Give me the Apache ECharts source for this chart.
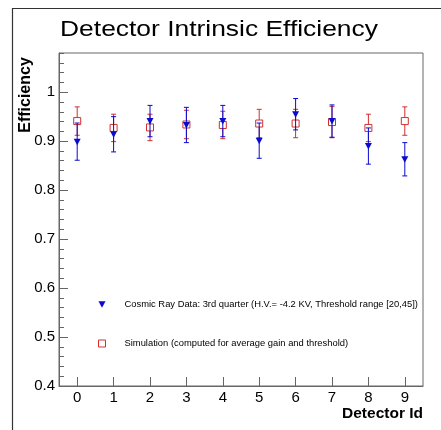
<!DOCTYPE html>
<html>
<head>
<meta charset="utf-8">
<script src="https://cdn.jsdelivr.net/npm/echarts@6/dist/echarts.min.js"></script>
<style>
html,body{margin:0;padding:0;background:#fff;}
#chart{width:441px;height:430px;}
</style>
</head>
<body>
<div id="chart"></div>
<script>
// ---- data ----
var detectorIds = ['0','1','2','3','4','5','6','7','8','9'];
var dataEff = [0.899, 0.914, 0.941, 0.933, 0.941, 0.901, 0.955, 0.941, 0.890, 0.863];
var dataErr = [0.038, 0.036, 0.032, 0.036, 0.032, 0.036, 0.032, 0.033, 0.037, 0.034];
var simEff  = [0.941, 0.927, 0.928, 0.934, 0.933, 0.936, 0.936, 0.939, 0.927, 0.941];
var simErr  = [0.029, 0.028, 0.027, 0.029, 0.028, 0.029, 0.029, 0.032, 0.028, 0.029];
var yTicks = [0.4, 0.5, 0.6, 0.7, 0.8, 0.9, 1];
var dataName = 'Cosmic Ray Data: 3rd quarter (H.V.= -4.2 KV, Threshold range [20,45])';
var simName = 'Simulation (computed for average gain and threshold)';
var titleText = 'Detector Intrinsic Efficiency';

var FONT = "'Liberation Sans', Arial, Helvetica, sans-serif";
var BLUE = '#0a0ad0';
var RED = '#d03030';
var AXIS = '#666666';

function makeRender(kind, color) {
  return function (params, api) {
    var xi = api.value(0), v = api.value(1), e = api.value(2);
    var c = api.coord([xi, v]);
    var t = api.coord([xi, v + e]);
    var b = api.coord([xi, v - e]);
    var cap = 2.5;
    var ls = {stroke: color, lineWidth: 1};
    var children = [
      {type: 'line', shape: {x1: c[0], y1: t[1], x2: c[0], y2: b[1]}, style: ls},
      {type: 'line', shape: {x1: c[0] - cap, y1: t[1], x2: c[0] + cap, y2: t[1]}, style: ls},
      {type: 'line', shape: {x1: c[0] - cap, y1: b[1], x2: c[0] + cap, y2: b[1]}, style: ls}
    ];
    if (kind === 'tri') {
      children.push({type: 'polygon', shape: {points: [[c[0] - 3.5, c[1] - 3], [c[0] + 3.5, c[1] - 3], [c[0], c[1] + 3.5]]}, style: {fill: color}});
    } else {
      children.push({type: 'rect', shape: {x: c[0] - 3.5, y: c[1] - 3.5, width: 7, height: 7}, style: {fill: '#fff', stroke: color, lineWidth: 1}});
    }
    return {type: 'group', children: children};
  };
}

var chart = echarts.init(document.getElementById('chart'), null, {renderer: 'canvas'});
var option = {
  backgroundColor: '#ffffff',
  animation: false,
  textStyle: {fontFamily: FONT},
  grid: {left: 59, right: 18, top: 53, bottom: 44, show: true, borderColor: AXIS, borderWidth: 1, containLabel: false},
  xAxis: {
    type: 'category',
    data: detectorIds,
    boundaryGap: true,
    axisLine: {show: true, lineStyle: {color: AXIS}},
    axisTick: {show: true, inside: true, length: 9, alignWithLabel: true, lineStyle: {color: AXIS}},
    axisLabel: {color: '#000', fontSize: 15, margin: 4, fontFamily: FONT},
    splitLine: {show: false}
  },
  yAxis: [
    {
      type: 'value', min: 0.4, max: 1.08, interval: 0.1,
      axisLine: {show: true, lineStyle: {color: AXIS}},
      axisTick: {show: true, inside: true, length: 9, lineStyle: {color: AXIS}},
      axisLabel: {color: '#000', fontSize: 15, margin: 4, fontFamily: FONT, showMaxLabel: false,
        formatter: function (v) { return yTicks.indexOf(Math.round(v * 10) / 10) >= 0 && Math.abs(v * 10 - Math.round(v * 10)) < 1e-6 ? String(Math.round(v * 10) / 10) : ''; }},
      splitLine: {show: false}
    },
    {
      type: 'value', min: 0.4, max: 1.08, interval: 0.02, position: 'left',
      axisLine: {show: false},
      axisTick: {show: true, inside: true, length: 5, lineStyle: {color: AXIS}},
      axisLabel: {show: false},
      splitLine: {show: false}
    }
  ],
  legend: {
    orient: 'vertical', left: 93, top: 295, itemWidth: 7, itemHeight: 7, itemGap: 30,
    selectedMode: false,
    textStyle: {fontSize: 9.4, color: '#000', fontFamily: FONT, padding: [0, 0, 0, 14]},
    data: [
      {name: dataName, icon: 'path://M0,0L10,0L5,9Z', itemStyle: {color: BLUE}},
      {name: simName, icon: 'rect', itemStyle: {color: '#fff', borderColor: RED, borderWidth: 1}}
    ]
  },
  series: [
    {
      name: simName, type: 'custom', xAxisIndex: 0, yAxisIndex: 0,
      renderItem: makeRender('sq', RED), itemStyle: {color: RED},
      encode: {x: 0, y: 1},
      data: detectorIds.map(function (d, i) { return [i, simEff[i], simErr[i]]; })
    },
    {
      name: dataName, type: 'custom', xAxisIndex: 0, yAxisIndex: 0,
      renderItem: makeRender('tri', BLUE), itemStyle: {color: BLUE},
      encode: {x: 0, y: 1},
      data: detectorIds.map(function (d, i) { return [i, dataEff[i], dataErr[i]]; })
    }
  ],
  graphic: [
    {type: 'line', shape: {x1: 12, y1: 8.5, x2: 441, y2: 8.5}, style: {stroke: '#333', lineWidth: 1.2}},
    {type: 'line', shape: {x1: 12.5, y1: 8, x2: 12.5, y2: 430}, style: {stroke: '#333', lineWidth: 1.2}},
    {type: 'text', x: 219, y: 30, scaleX: 1.2,
      style: {text: titleText, font: 'normal 22px ' + FONT, fill: '#000', textAlign: 'center', textVerticalAlign: 'middle'}},
    {type: 'text', x: 26, y: 95, rotation: Math.PI / 2,
      style: {text: 'Efficiency', font: 'bold 16px ' + FONT, fill: '#000', textAlign: 'center', textVerticalAlign: 'middle'}},
    {type: 'text', x: 423, y: 414,
      style: {text: 'Detector Id', font: 'bold 15.5px ' + FONT, fill: '#000', textAlign: 'right', textVerticalAlign: 'middle'}}
  ]
};
chart.setOption(option);
</script>
</body>
</html>
